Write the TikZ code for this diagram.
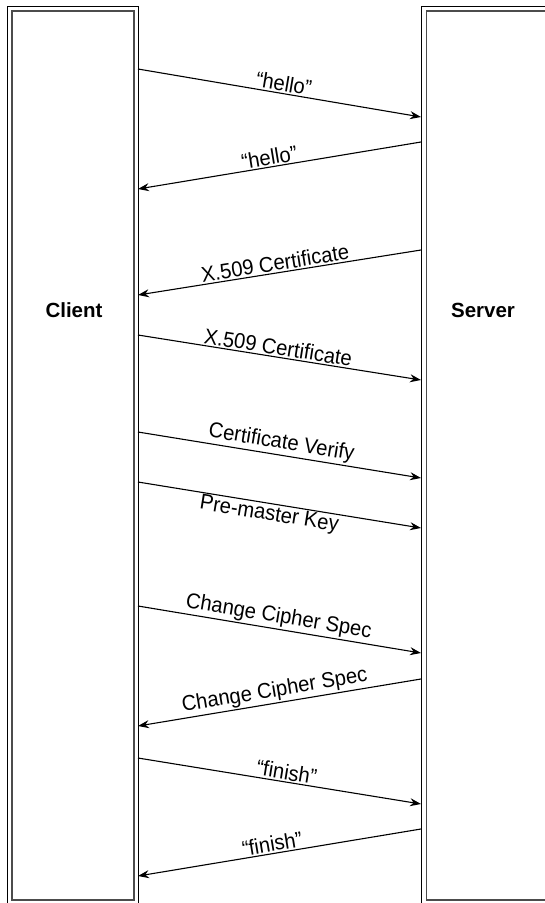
\documentclass[tikz,border=0pt]{standalone}
\usepackage{fontspec}
\setmainfont{Liberation Sans}
\newfontfamily\narrowfont[FakeStretch=0.94]{Liberation Sans}
\usetikzlibrary{arrows.meta, positioning, calc}

\begin{document}
\begin{tikzpicture}[x=1pt,y=-1pt,
		frame/.style={draw=black, line width=0.9pt, inner sep=0pt},
		party/.style={draw=black!70, line width=1.3pt, inner sep=0pt},
		msg/.style={-{Stealth[length=11pt,width=8pt]}, line width=1.1pt},
		lbl/.style={font=\narrowfont\fontsize{21.5}{25}\selectfont, sloped, inner sep=1.5pt},
		who/.style={font=\fontsize{20.5}{24}\selectfont\bfseries}]
			\useasboundingbox (0,0) rectangle (545,903);
			\clip (0,0) rectangle (545,903);
			% the two parties
			\node [frame, minimum width=131pt, minimum height=914pt] (clientframe) at (72.5,463) {};
			\node [party, minimum width=122pt, minimum height=889pt] (clientbox) at (73,455.5) {};
			\node [frame, minimum width=178pt, minimum height=914pt] (serverframe) at (510.5,463) {};
			\node [party, minimum width=168pt, minimum height=889pt] (serverbox) at (510.5,455.5) {};
			\node [who] (client) at (74,310) {Client};
			\node [who] (server) at (483,310) {Server};
			% message ends
			\coordinate (c1) at (138,69);   \coordinate (s1) at (421,117);
			\coordinate (s2) at (421,142);  \coordinate (c2) at (138,189);
			\coordinate (s3) at (421,250);  \coordinate (c3) at (138,295);
			\coordinate (c4) at (138,335);  \coordinate (s4) at (421,380);
			\coordinate (c5) at (138,432);  \coordinate (s5) at (421,478);
			\coordinate (c6) at (138,482);  \coordinate (s6) at (421,528);
			\coordinate (c7) at (138,606);  \coordinate (s7) at (421,653);
			\coordinate (s8) at (421,679);  \coordinate (c8) at (138,726);
			\coordinate (c9) at (138,758);  \coordinate (s9) at (421,804);
			\coordinate (s10) at (421,829); \coordinate (c10) at (138,876);
			% messages
			\draw [msg] (c1) -- node [lbl, above, pos=0.51] {“hello”} (s1);
			\draw [msg] (s2) -- node [lbl, above, pos=0.53] {“hello”} (c2);
			\draw [msg] (s3) -- node [lbl, above, pos=0.51] {X.509 Certificate} (c3);
			\draw [msg] (c4) -- node [lbl, above, pos=0.49] {X.509 Certificate} (s4);
			\draw [msg] (c5) -- node [lbl, above, pos=0.5] {Certificate Verify} (s5);
			\draw [msg] (c6) -- node [lbl, below, pos=0.47] {Pre-master Key} (s6);
			\draw [msg] (c7) -- node [lbl, above, pos=0.49] {Change Cipher Spec} (s7);
			\draw [msg] (s8) -- node [lbl, above, pos=0.51] {Change Cipher Spec} (c8);
			\draw [msg] (c9) -- node [lbl, above, pos=0.52] {“finish”} (s9);
			\draw [msg] (s10) -- node [lbl, above, pos=0.52] {“finish”} (c10);
		\end{tikzpicture}
\end{document}
